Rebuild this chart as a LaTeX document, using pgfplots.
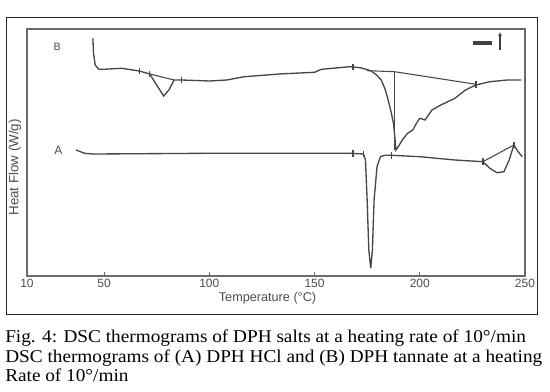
\documentclass[border=0pt]{standalone}
\usepackage{fontspec}
\setmainfont[FakeStretch=1.07]{Liberation Serif}
\newfontfamily\chartfont{Liberation Sans}
\usepackage{pgfplots}
\pgfplotsset{compat=1.18}
\usetikzlibrary{arrows.meta}
\definecolor{curve}{gray}{0.28}
\definecolor{axgray}{gray}{0.42}

\begin{document}
\begin{tikzpicture}
\path[use as bounding box] (0,0) rectangle (412.5pt,294pt);
\draw[black!85, line width=0.6pt] (4.5pt,58.5pt) rectangle (402.75pt,281.25pt);
\begin{axis}[
  at={(20.25pt,87pt)}, anchor=south west,
  width=373.5pt, height=185.25pt, scale only axis,
  xmin=13.4, xmax=250, ymin=0, ymax=247,
  xtick={13.4,50,100,150,200,250},
  xticklabels={10,50,100,150,200,250},
  ytick=\empty,
  tick align=inside, xtick pos=bottom, major tick length=3pt,
  axis line style={axgray, line width=1.6pt},
  every tick/.style={axgray, line width=0.8pt},
  font=\chartfont,
  tick label style={font=\chartfont\fontsize{9}{10}\selectfont, text=black!70},
  xticklabel style={yshift=1pt},
  /pgf/number format/assume math mode=true,
  xlabel={Temperature (°C)},
  ylabel={Heat Flow (W/g)},
  xlabel style={at={(axis description cs:0.483,-0.092)}, anchor=center,
    font=\chartfont\fontsize{9.5}{11}\selectfont, text=black!70},
  ylabel style={at={(axis description cs:-0.024,0.44)}, anchor=center,
    font=\chartfont\fontsize{10}{12}\selectfont, text=black!70},
  clip=false,
]
% Curve B (DPH tannate)
\addplot[curve, line width=1pt] coordinates {
(44.7,237.7) (45,222.7) (45.8,211) (47.5,206.7) (50,206.7) (58.3,207.7)
(66.7,205) (71.7,202) (75,191) (78.3,180) (80.8,186) (83.3,196) (86.7,196)
(100,195) (108.3,196) (116.7,199.3) (133.3,202) (150,203.7) (153.3,206.7)
(166.7,209.3) (171.7,208.3) (176.7,205.3) (179.5,201) (181.7,196) (183.5,187)
(185,176) (186.5,163) (187.5,152.7) (188.2,138) (188.7,126) (190,130)
(191.7,136) (194.2,142.7) (196.7,146) (198.5,153) (200,157.7) (202.5,156)
(205.8,166) (210,171) (216.7,177.7) (221.7,186) (226.7,191) (233.3,194.3)
(241.7,196) (248.3,196)
};
% B baselines
\addplot[curve, line width=0.8pt] coordinates {(71.7,202) (83.3,196)};
\addplot[curve, line width=0.8pt] coordinates {(175,205.3) (188,204.3) (226.7,191.7)};
\addplot[curve, line width=0.8pt] coordinates {(188,204.3) (188,126)};
% Curve A (DPH HCl)
\addplot[curve, line width=1pt] coordinates {
(36.7,126) (40.8,122.7) (45,122) (100,122.7) (166.7,122.7) (173.3,122)
(174.2,116) (175,76) (175.8,26) (176.7,7.7) (177.5,26) (178.3,76)
(179.7,109.3) (181.3,119.3) (183.3,120.7) (186.7,120.7) (200,119.3)
(216.7,116) (230,114.3) (233.3,107.7) (236.7,103.3) (240,104.3)
(242.5,116) (244.7,131) (246.7,124.3) (248.7,119.3)
};
% A baseline
\addplot[curve, line width=0.8pt] coordinates {(230,114.3) (244.7,131)};
% small analysis markers
\addplot[only marks, mark=|, mark size=2.5pt, curve, mark options={line width=1pt}] coordinates {
(66.7,205) (71.7,202) (86.7,196) (168.3,209) (226.7,191.5)
(168.3,122.7) (173.3,122) (186.7,120.7) (230,114.3) (244.7,131)
};
% curve labels
\node[font=\chartfont\fontsize{8}{9}\selectfont, text=black!70] at (axis cs:27.7,229) {B};
\node[font=\chartfont\fontsize{9}{10}\selectfont, text=black!70] at (axis cs:28.3,126) {A};
% direction icon
\addplot[black!75, line width=2.4pt] coordinates {(225.3,233) (234.3,233)};
\addplot[black!75, line width=1.2pt, -{Latex[length=3pt,width=3pt]}] coordinates {(238.1,226) (238.1,244)};
\end{axis}
\node[anchor=base west, inner sep=0pt] at (3.75pt,36.75pt)
  {\fontsize{13.5}{15}\selectfont Fig. 4: DSC thermograms of DPH salts at a heating rate of 10°/min};
\node[anchor=base west, inner sep=0pt] at (3.75pt,21.75pt)
  {\fontsize{13.5}{15}\selectfont DSC thermograms of (A) DPH HCl and (B) DPH tannate at a heating};
\node[anchor=base west, inner sep=0pt] at (3.75pt,7.5pt)
  {\fontsize{13.5}{15}\selectfont Rate of 10°/min};
\end{tikzpicture}
\end{document}
